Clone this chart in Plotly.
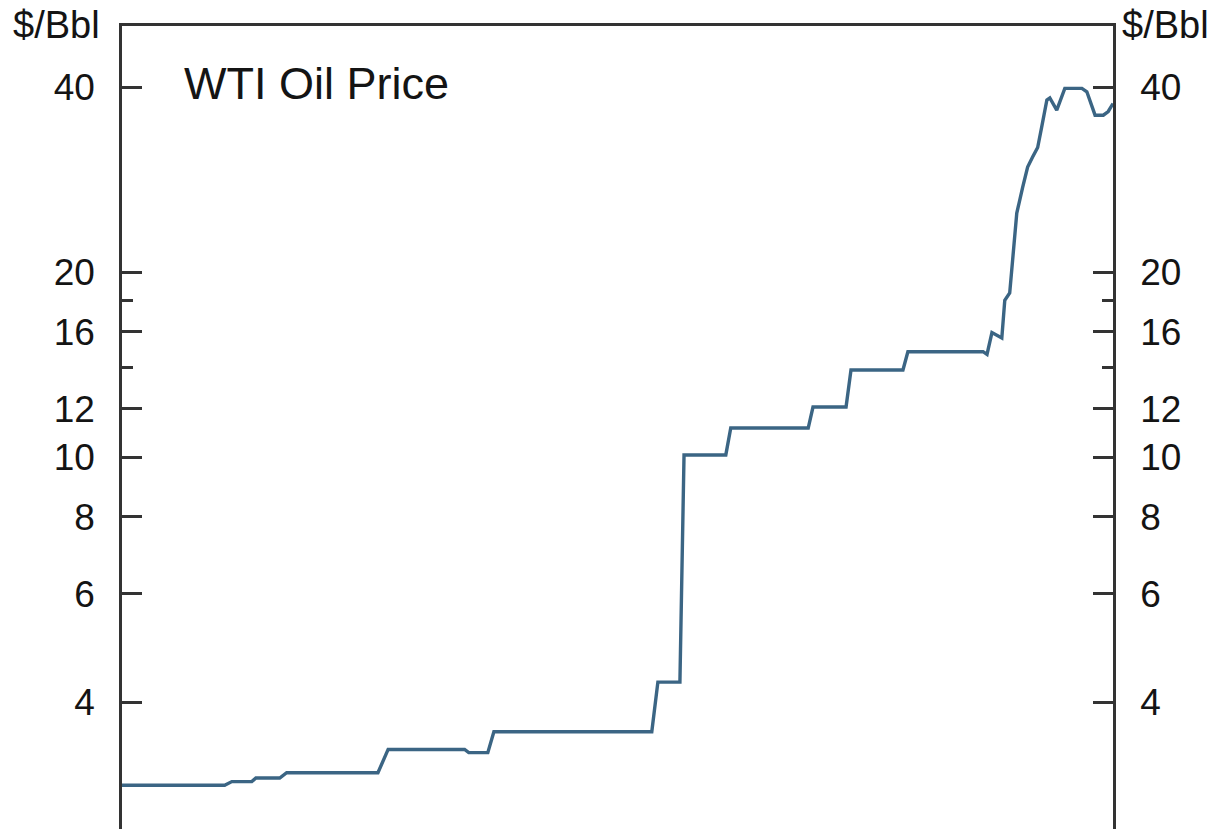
import math
import plotly.graph_objects as go

# WTI posted price, $/Bbl, at the turning points of the series
dates = [
    "1964-09-01", "1966-05-18", "1966-07-01", "1966-10-30", "1966-11-24",
    "1967-04-18", "1967-05-30", "1968-12-05", "1969-02-05", "1970-05-16",
    "1970-06-10", "1970-10-04", "1970-11-10", "1973-06-27", "1973-08-03",
    "1973-12-15", "1974-01-09", "1974-09-20", "1974-10-20", "1976-02-03",
    "1976-03-03", "1976-09-20", "1976-10-20", "1977-09-01", "1977-10-01",
    "1979-01-01", "1979-01-25", "1979-02-24", "1979-04-25", "1979-05-13",
    "1979-06-12", "1979-07-25", "1979-08-30", "1979-09-29", "1979-10-30",
    "1979-11-29", "1979-12-23", "1980-01-24", "1980-02-11", "1980-03-24",
    "1980-05-12", "1980-08-24", "1980-09-23", "1980-11-12", "1981-01-01",
    "1981-01-31", "1981-03-01",
]
prices = [
    2.93, 2.93, 2.97, 2.97, 3.01,
    3.01, 3.07, 3.07, 3.35, 3.35,
    3.31, 3.31, 3.58, 3.58, 4.31,
    4.31, 10.09, 10.09, 11.16, 11.16,
    12.07, 12.07, 13.87, 13.87, 14.85,
    14.85, 14.7, 15.95, 15.63, 18.0,
    18.5, 24.95, 27.5, 29.65, 30.8,
    31.9, 34.4, 38.1, 38.4, 36.7,
    39.8, 39.8, 39.3, 36.0, 36.0,
    36.5, 37.6,
]

major_ticks = [4, 6, 8, 10, 12, 16, 20, 40]
major_labels = ["4", "6", "8", "10", "12", "16", "20", "40"]
minor_ticks = [14, 18]

y_low, y_high = 2.487, 50.27
x_start, x_end = "1964-09-01", "1981-03-01"

axis_color = "#333333"
text_color = "#141414"
line_color = "#3b6584"
font_family = "Liberation Sans, Arial, Helvetica, sans-serif"
label_size = 37

fig = go.Figure()
fig.add_trace(go.Scatter(
    x=dates, y=prices, mode="lines",
    line=dict(color=line_color, width=3.4),
    hoverinfo="skip", showlegend=False,
))
# same series on the right-hand axis so that axis gets drawn
fig.add_trace(go.Scatter(
    x=dates, y=prices, mode="lines", yaxis="y2",
    line=dict(color=line_color, width=3.4),
    opacity=0, hoverinfo="skip", showlegend=False,
))

yaxis_common = dict(
    type="log",
    range=[math.log10(y_low), math.log10(y_high)],
    tickmode="array",
    tickvals=major_ticks,
    ticktext=major_labels,
    ticks="inside",
    ticklen=20,
    tickwidth=2.5,
    tickcolor=axis_color,
    showline=True,
    linecolor=axis_color,
    linewidth=2.5,
    showgrid=False,
    zeroline=False,
    ticklabelstandoff=17,
    tickfont=dict(size=label_size, color=text_color, family=font_family),
    minor=dict(
        tickmode="array",
        tickvals=minor_ticks,
        ticks="inside",
        ticklen=11,
        tickwidth=2.5,
        tickcolor=axis_color,
        showgrid=False,
    ),
    fixedrange=True,
)

fig.update_layout(
    width=1228,
    height=829,
    margin=dict(l=122, r=115, t=26, b=0, pad=0),
    paper_bgcolor="white",
    plot_bgcolor="white",
    font=dict(family=font_family, color=text_color),
    xaxis=dict(
        type="date",
        range=[x_start, x_end],
        side="top",
        showline=True,
        linecolor=axis_color,
        linewidth=2.5,
        showticklabels=False,
        ticks="",
        showgrid=False,
        zeroline=False,
        fixedrange=True,
    ),
    yaxis=dict(side="left", **yaxis_common),
    yaxis2=dict(side="right", overlaying="y", **yaxis_common),
    annotations=[
        dict(text="WTI Oil Price", xref="paper", yref="paper",
             x=(182 - 122) / 991, y=(829 - 84) / 803,
             xanchor="left", yanchor="middle", showarrow=False,
             font=dict(size=45, color=text_color, family=font_family)),
        dict(text="$/Bbl", xref="paper", yref="paper",
             x=(102 - 122) / 991, y=(829 - 25) / 803,
             xanchor="right", yanchor="middle", showarrow=False,
             font=dict(size=38, color=text_color, family=font_family)),
        dict(text="$/Bbl", xref="paper", yref="paper",
             x=(1120 - 122) / 991, y=(829 - 25) / 803,
             xanchor="left", yanchor="middle", showarrow=False,
             font=dict(size=38, color=text_color, family=font_family)),
    ],
)

fig.write_html("out.html")
